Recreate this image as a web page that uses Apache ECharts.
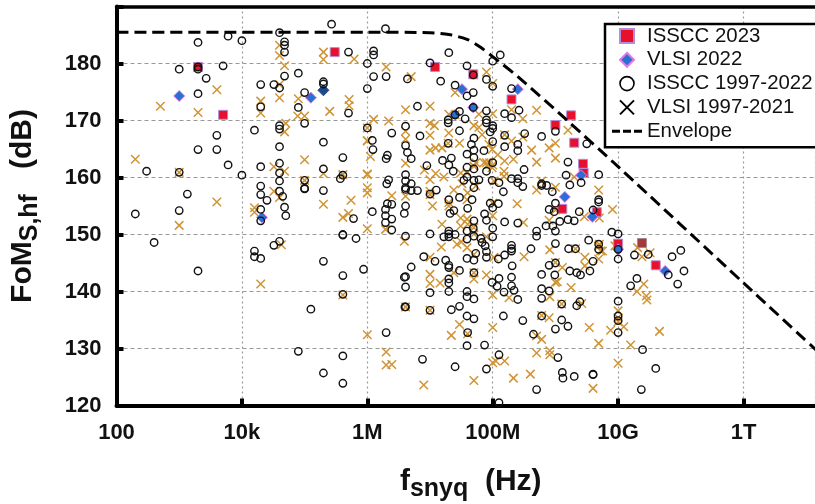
<!DOCTYPE html>
<html><head><meta charset="utf-8">
<script src="https://cdn.jsdelivr.net/npm/echarts@6/dist/echarts.min.js"></script>
<style>html,body{margin:0;padding:0;background:#fff}#c{width:815px;height:504px}</style>
</head><body><div id="c"></div>
<script>
// All points: [log10(frequency in Hz), FoM in dB]
const isscc2023 = [[3.30,179.4],[3.70,171.0],[5.48,182.0],[7.08,179.4],[7.69,178.1],[8.30,173.7],[9.0,169.2],[9.25,170.9],[9.30,166.1],[9.44,162.4],[9.45,160.8],[9.11,154.5],[9.66,153.9],[10.0,148.4],[10.38,148.5],[10.60,144.6]];
const vlsi2022 = [[3.0,174.3],[5.10,174.0],[5.30,175.3],[4.32,153.0],[7.51,175.5],[8.40,175.5],[7.69,172.3],[7.40,171.0],[9.41,160.4],[9.15,156.6],[9.59,153.1],[10.0,147.4],[10.75,143.6]];
const isscc9722 = [
[5.43,186.9],[4.60,185.4],[3.78,184.8],[3.30,183.7],[4.0,184.0],[4.68,183.8],[4.68,183.2],[4.68,182.0],[5.70,182.0],[6.0,180.0],[3.0,179.0],[3.30,179.4],[3.30,179.0],[3.70,179.6],[3.43,177.4],[4.90,178.3],[4.68,177.8],[4.30,176.3],[4.51,176.3],[4.60,175.7],[5.30,176.8],[5.30,176.4],[5.0,174.9],[6.0,175.6],[3.30,174.7],[4.30,172.4],[4.90,172.3],[5.70,171.3],[5.0,169.5],[4.60,169.1],[4.60,168.5],[4.20,168.3],[3.60,167.4],[6.0,168.7],[5.30,166.2],[3.30,164.9],[3.60,164.9],[4.60,165.4],[5.61,163.5],[3.78,162.2],[4.30,161.9],[4.60,162.5],[2.48,161.1],[3.0,160.9],[4.0,160.4],[4.60,160.8],[5.30,161.5],[5.61,160.4],[5.57,159.8],[5.0,159.5],[4.60,159.4],[4.30,158.5],[5.0,158.1],[5.0,158.0],[4.60,157.6],[5.30,157.7],[3.13,157.1],[4.30,157.0],[4.65,156.7],[4.40,156.0],
[2.30,153.6],[3.0,154.2],[4.30,154.4],[4.68,154.8],[4.70,153.3],[4.30,152.4],[5.78,152.8],[5.61,150.0],[5.61,149.9],[5.82,149.3],[2.60,148.6],[4.60,148.8],[4.51,148.1],[4.20,147.1],[4.20,146.1],[4.30,145.8],[5.30,145.3],[3.30,143.6],[5.94,143.9],[5.61,142.8],[5.61,139.5],[5.10,136.9],[4.90,129.5],[5.61,128.7],[5.30,125.7],[5.61,123.9],
[6.29,186.1],[6.10,182.2],[6.10,181.5],[7.30,181.9],[7.0,180.1],[7.59,179.6],[8.12,181.5],[8.0,180.4],[6.10,177.7],[6.30,177.7],[6.64,177.3],[7.17,176.9],[7.90,177.2],[8.0,176.0],[7.40,176.2],[7.69,178.0],[7.69,174.9],[7.59,174.3],[8.30,175.6],[6.80,172.5],[7.69,172.3],[7.90,171.7],[8.42,171.8],[8.19,171.2],[8.30,170.5],[7.47,171.6],[7.40,171.0],[7.29,170.1],[7.29,169.6],[7.56,170.3],[7.90,170.1],[7.90,169.6],[8.0,169.1],[8.0,168.6],[7.96,168.0],[6.61,169.0],[6.39,167.8],[6.84,167.3],[7.47,168.2],[6.08,166.5],[6.61,165.6],[6.09,164.9],[7.29,166.0],[7.70,166.9],[7.66,165.8],[8.0,166.3],[7.70,164.8],[8.19,167.4],[8.19,165.4],[8.40,165.8],[8.51,167.7],[8.40,164.7],[7.86,164.7],[7.59,164.1],[7.70,163.5],[6.64,164.4],[6.70,163.3],[6.32,163.9],[6.30,163.3],[7.20,163.0],[7.34,163.4],[7.30,162.2],[6.95,162.1],[7.37,161.1],[7.59,161.8],[7.70,161.5],[7.90,161.1],[8.0,162.6],[8.50,161.4],[6.61,160.5],[6.61,159.4],[6.61,158.2],[6.61,157.9],[6.70,158.9],[6.80,157.7],[6.70,157.7],[6.34,159.6],[6.31,158.9],[7.54,159.5],[7.59,160.1],[7.70,159.5],[7.78,159.6],[7.70,158.2],[7.99,159.5],[8.10,159.1],[8.30,159.8],[8.40,159.8],[8.40,159.1],[8.48,158.4],[8.17,157.5],[7.10,157.8],[7.0,157.1],[7.47,156.5],[7.30,156.1],[7.67,156.1],[6.39,155.3],[6.32,155.4],[6.61,155.0],[7.96,155.5],[8.09,155.4],[8.78,158.9],[8.78,158.6],[8.86,158.6],[8.95,157.5],[9.0,168.1],[8.78,167.2],[9.50,165.9],[9.20,162.7],[9.17,160.4],[9.23,158.7],[9.41,159.1],[9.69,160.5],[9.69,156.1],[9.69,155.7],[9.0,155.5],
[6.08,154.0],[6.29,154.4],[6.29,153.3],[6.29,152.1],[6.39,152.7],[6.39,150.8],[6.59,153.7],[6.61,149.7],[7.0,150.1],[7.22,149.6],[7.30,150.6],[7.30,150.1],[7.30,149.6],[7.40,150.0],[7.32,153.7],[7.38,154.2],[7.60,154.6],[7.70,152.4],[7.90,152.5],[7.87,153.6],[8.0,154.7],[7.69,151.1],[7.70,149.7],[7.59,150.6],[7.59,149.2],[8.0,151.1],[8.0,149.6],[7.81,149.3],[7.83,148.6],[7.88,148.0],[7.73,146.7],[7.90,147.0],[7.90,146.0],[7.59,145.8],[7.70,145.5],[8.19,152.2],[8.40,152.0],[8.70,150.6],[8.70,149.7],[8.85,151.5],[8.96,151.5],[9.0,150.6],[9.07,152.3],[9.20,152.6],[9.30,152.4],[9.38,154.0],[9.60,154.3],[8.90,154.4],[8.98,154.0],[9.90,150.4],[10.0,150.1],[9.53,149.0],[9.0,148.4],[8.61,147.5],[8.30,148.1],[8.30,147.5],[8.30,147.1],[8.19,146.4],[8.09,145.7],[6.90,146.1],[6.70,144.3],[7.08,145.3],[7.25,145.5],[7.30,144.6],[7.30,144.2],[7.47,143.7],[7.30,142.2],[7.30,141.5],[7.30,140.0],[7.0,139.8],[6.61,142.6],[6.59,142.5],[6.61,140.8],[7.70,143.3],[7.59,140.0],[7.59,139.1],[7.70,138.7],[8.31,144.5],[8.30,142.5],[8.10,142.3],[7.99,141.6],[8.07,140.9],[8.30,141.0],[8.34,140.2],[8.18,139.9],[8.40,138.6],[8.78,143.0],[8.90,144.6],[9.0,145.0],[8.99,142.9],[9.23,143.6],[9.34,143.3],[9.40,142.9],[9.55,143.6],[9.60,145.3],[9.21,147.5],[9.32,147.5],[9.69,148.3],[9.69,147.4],[8.78,140.5],[8.90,140.1],[8.78,138.8],[9.10,137.8],[9.34,137.5],[9.39,138.2],[6.61,137.3],[6.60,137.3],[7.0,136.7],[7.34,136.8],[7.47,137.4],[7.59,135.7],[7.70,135.2],[8.17,135.7],[8.48,134.9],[8.78,135.7],[9.10,135.0],[9.20,133.9],[9.0,133.4],[8.65,132.5],[7.60,132.8],[6.30,132.8],[7.59,130.5],[7.87,130.6],[6.88,128.1],[7.40,126.8],[7.90,126.4],[8.10,128.9],[9.04,128.4],[9.11,125.8],[9.12,124.8],[9.30,125.1],[9.60,125.5],[9.60,125.4],[8.70,122.8],[8.10,120.5],[10.0,138.3],[10.0,135.7],[10.0,134.9],[10.0,132.8],
[10.0,145.7],[10.0,147.4],[10.26,146.4],[10.48,146.5],[10.86,146.1],[11.0,147.2],[11.05,143.6],[10.80,142.9],[10.95,141.3],[10.30,142.3],[10.20,141.0],[10.39,129.8],[10.60,126.5],[10.37,122.8]];
const vlsi9721 = [
[3.60,175.4],[2.70,172.5],[3.30,171.4],[4.30,173.4],[4.30,171.3],[4.60,176.3],[4.60,174.0],[4.90,173.8],[4.89,170.8],[5.0,170.8],[4.70,169.5],[4.68,168.0],[5.40,171.6],[5.71,173.7],[5.71,172.6],[5.30,182.0],[5.30,180.7],[5.79,180.8],[4.68,179.6],[4.60,183.2],[4.60,181.4],[6.0,168.7],[6.0,166.4],[5.0,163.1],[2.30,163.2],[3.0,160.9],[4.51,161.9],[4.68,161.1],[5.30,160.7],[5.61,160.5],[6.0,160.6],[5.0,159.5],[4.51,157.6],[4.60,156.5],[6.0,158.2],[3.60,155.7],[5.30,155.3],[5.74,156.0],[4.20,154.7],
[3.0,151.6],[4.20,153.9],[5.61,153.0],[5.70,153.7],[4.63,148.2],[6.0,151.0],[4.30,141.3],[5.61,139.4],[6.0,132.4],
[6.30,179.4],[6.70,177.7],[7.90,178.5],[8.0,176.5],[7.40,174.9],[6.61,171.9],[7.0,172.5],[6.10,170.2],[6.34,169.9],[7.0,169.5],[7.07,169.1],[7.30,171.1],[7.40,171.0],[7.78,171.1],[8.0,171.2],[8.30,171.9],[8.70,171.8],[8.48,170.3],[7.70,169.1],[7.78,168.8],[7.83,167.5],[7.0,167.4],[6.61,166.7],[6.61,168.1],[7.30,167.8],[7.29,166.0],[7.47,166.0],[8.19,167.5],[8.30,166.4],[8.48,167.1],[7.94,165.8],[9.20,168.3],[9.0,166.0],[8.90,165.2],[8.62,164.8],[7.0,164.8],[7.09,165.2],[7.19,165.2],[7.99,164.9],[8.08,164.0],[6.05,163.7],[6.61,162.5],[8.19,162.9],[8.33,163.2],[8.70,162.7],[9.0,163.4],[6.0,166.5],[7.86,162.6],[7.90,162.6],[7.95,162.6],[8.0,162.2],[7.92,162.2],[7.99,161.7],[7.73,162.6],[7.70,162.0],[6.91,161.3],[7.09,160.7],[7.22,160.1],[7.0,159.6],[7.49,160.8],[7.59,160.8],[8.18,161.1],[8.18,160.2],[6.0,160.5],[6.0,157.3],[6.39,156.8],[6.61,156.7],[7.0,157.6],[7.0,157.0],[7.38,157.8],[7.51,158.9],[7.60,157.3],[7.73,158.5],[8.02,159.4],[8.70,157.8],[8.78,159.4],[9.0,158.3],[9.30,160.1],[9.69,157.8],[7.30,155.6],[7.04,155.0],[8.39,155.4],[8.0,155.5],[9.91,154.4],[7.59,156.1],[7.30,155.0],
[6.29,150.9],[6.59,148.8],[7.19,151.8],[7.49,152.9],[7.59,152.7],[7.49,151.5],[7.60,151.8],[7.70,151.2],[7.90,149.6],[7.70,150.1],[7.18,147.8],[7.43,148.3],[7.50,148.7],[7.59,147.7],[7.70,146.5],[7.0,146.0],[8.02,146.0],[8.0,153.3],[8.50,146.1],[8.49,152.1],[8.90,152.5],[8.91,147.3],[9.0,154.3],[9.46,153.1],[9.70,152.9],[9.32,147.5],[9.69,148.0],[9.72,147.1],[9.69,145.7],[9.47,146.0],[9.47,144.5],[9.11,144.2],[9.0,145.1],[7.38,143.3],[7.70,143.3],[7.70,142.2],[7.90,142.9],[7.0,143.0],[7.0,141.4],[7.16,141.5],[8.0,139.4],[8.26,138.9],[9.03,141.7],[9.0,141.6],[9.25,140.7],[8.91,139.1],[9.42,137.9],[9.10,137.8],[6.61,137.3],[7.0,136.7],[8.78,135.8],[8.90,135.4],[7.47,134.2],[8.0,133.7],[7.34,132.3],[7.60,132.6],[8.70,132.2],[8.78,131.6],[9.54,133.7],[9.88,133.2],[9.69,130.9],[6.30,129.4],[6.30,127.1],[6.39,127.2],[8.0,127.5],[8.05,127.8],[8.19,127.8],[8.33,124.8],[8.60,125.5],[7.70,124.4],[6.90,123.6],[8.70,129.2],[8.91,129.6],[8.91,128.9],[9.60,123.0],[10.0,127.4],[10.0,135.4],[10.0,136.6],
[9.95,148.0],[9.70,148.3],[9.75,147.1],[10.31,147.7],[10.38,146.1],[10.51,146.8],[10.41,141.3],[10.30,140.0],[10.45,139.2],[10.46,138.5],[10.0,134.7],[10.09,133.8],[10.66,133.0],[10.20,130.6]];
const envelope = [[2,185.5],[6,185.5],[7,185.4],[7.3,185.1],[7.6,184.2],[7.8,182.9],[8,181.2],[8.4,177.7],[9.2,169.9],[10,161.9],[12,141.5],[13.3,128.3]];
const xTickLabels = {2:'100',4:'10k',6:'1M',8:'100M',10:'10G',12:'1T'};
const yTicks = [120,130,140,150,160,170,180];
const names = ['ISSCC 2023','VLSI 2022','ISSCC 1997-2022','VLSI 1997-2021','Envelope'];

const toHz = pts => pts.map(p => [Math.pow(10,p[0]), p[1]]);
const crossPath = 'path://M0,0L10,10M10,0L0,10';
const squarePath = 'path://M0,0H10V10H0Z';
const diamondPath = 'path://M5,0L10,5L5,10L0,5Z';
const circlePath = 'path://M10,5A5,5,0,1,1,0,5A5,5,0,1,1,10,5Z';
const dashPath = 'path://M0,0H8V3H0ZM11,0H19V3H11ZM22,0H30V3H22Z';
const font = '"Liberation Sans", Arial, sans-serif';
const xMax = 1.38e13;
const titleRich = {
  f:{fontFamily:font,fontWeight:'bold',fontSize:30,color:'#111'},
  s:{fontFamily:font,fontWeight:'bold',fontSize:25,color:'#111',verticalAlign:'bottom',padding:[14,0,0,0]}
};

const chart = echarts.init(document.getElementById('c'), null, {renderer:'canvas'});
chart.setOption({
  animation:false,
  backgroundColor:'#fff',
  grid:{left:116.5,top:6.5,right:0,bottom:98.5,show:false,outerBoundsMode:'none'},
  xAxis:[{type:'log',logBase:100,min:100,max:xMax,
    name:'{f|f}{s|snyq}{f|  (Hz)}',nameLocation:'middle',nameGap:57,
    nameTextStyle:{rich:titleRich,padding:[0,0,0,10]},
    axisLine:{show:true,lineStyle:{color:'#000',width:4}},
    axisTick:{show:true,inside:true,length:7,lineStyle:{color:'#000',width:4}},
    minorTick:{show:false},minorSplitLine:{show:false},
    axisLabel:{fontFamily:font,fontWeight:'bold',fontSize:22,color:'#111',margin:16,showMaxLabel:false,
      formatter:v=>{const k=Math.round(Math.log10(v));return Math.abs(Math.log10(v)-k)<1e-6?(xTickLabels[k]||''):'';}},
    splitLine:{show:true,lineStyle:{color:'#999',width:1.2,type:[2,3]}}},
   {type:'log',logBase:100,min:100,max:xMax,position:'top',
    axisLine:{show:true,lineStyle:{color:'#000',width:3.5}},axisTick:{show:false},axisLabel:{show:false},splitLine:{show:false},minorTick:{show:false}}],
  yAxis:{type:'value',min:120,max:190,interval:10,
    name:'{f|FoM}{s|S,hf}{f|   (dB)}',nameLocation:'middle',nameGap:74,
    nameTextStyle:{rich:titleRich},
    axisLine:{show:true,lineStyle:{color:'#000',width:4}},
    axisTick:{show:true,inside:true,length:7,lineStyle:{color:'#000',width:4}},
    axisLabel:{fontFamily:font,fontWeight:'bold',fontSize:22,color:'#111',margin:15,
      formatter:v=>yTicks.includes(v)?String(v):''},
    splitLine:{show:true,lineStyle:{color:'#999',width:1.2,type:[4,3]}}},
  legend:{orient:'vertical',left:605,top:24,padding:[2,40,6,7],itemWidth:30,itemHeight:14,itemGap:3.8,
    backgroundColor:'#fff',borderColor:'#000',borderWidth:2.5,borderRadius:0,
    selectedMode:false,
    textStyle:{fontFamily:font,fontSize:20.4,color:'#111'},
    data:[
      {name:names[0],icon:squarePath},
      {name:names[1],icon:diamondPath},
      {name:names[2],icon:circlePath,itemStyle:{color:'transparent',borderColor:'#000',borderWidth:1.6}},
      {name:names[3],icon:crossPath,itemStyle:{color:'transparent',borderColor:'#000',borderWidth:2}},
      {name:names[4],icon:dashPath,itemStyle:{color:'#000',borderWidth:0}}
    ]},
  series:[
    {name:names[3],type:'scatter',z:2,symbol:crossPath,symbolSize:8.5,data:toHz(vlsi9721),
     itemStyle:{color:'transparent',borderColor:'#cf9435',borderWidth:1.5,opacity:1}},
    {name:names[0],type:'scatter',z:3,symbol:'rect',symbolSize:9,
     data:toHz(isscc2023).map(p=>(p[1]===148.5&&p[0]>1e10)?{value:p,itemStyle:{color:'#a33a3c',borderColor:'#a88'}}:p),
     itemStyle:{color:'#e8112d',borderColor:'#b48fd8',borderWidth:1,opacity:1}},
    {name:names[1],type:'scatter',z:3,symbol:'diamond',symbolSize:11,
     data:toHz(vlsi2022).map(p=>(p[1]===175.3)?{value:p,itemStyle:{color:'#1f4a85',borderColor:'#1f4a85'}}:p),
     itemStyle:{color:'#2a6fd2',borderColor:'#e27ae8',borderWidth:1,opacity:1}},
    {name:names[2],type:'scatter',z:4,symbol:'circle',symbolSize:7.4,data:toHz(isscc9722),
     itemStyle:{color:'transparent',borderColor:'#111',borderWidth:1.4,opacity:1}},
    {name:names[4],type:'line',z:5,symbol:'none',smooth:0.25,data:toHz(envelope),
     lineStyle:{color:'#000',width:3,type:[12,6]},itemStyle:{color:'#000'}}
  ]
});
</script></body></html>
